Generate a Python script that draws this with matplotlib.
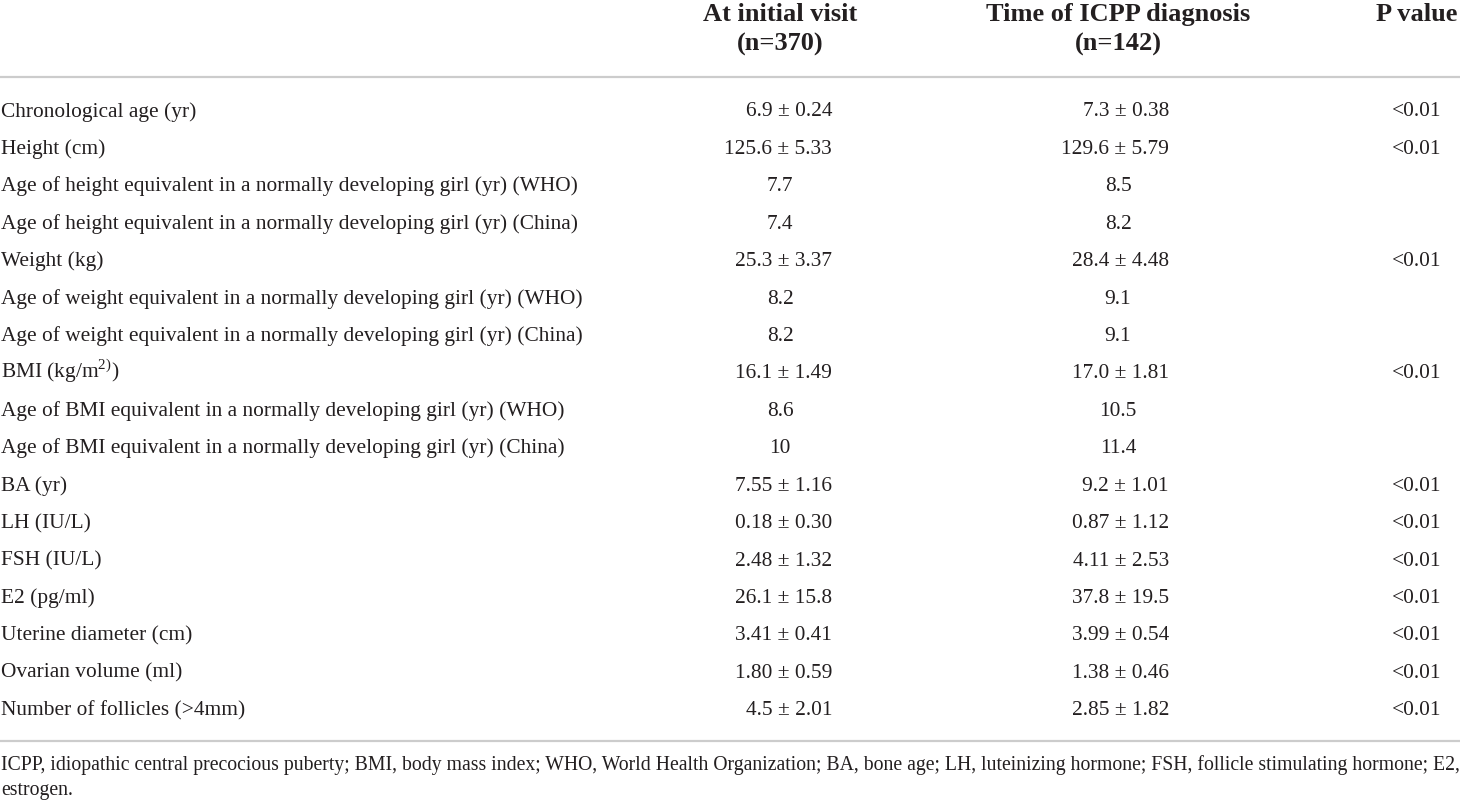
import matplotlib
matplotlib.use("Agg")
import matplotlib.pyplot as plt

# ============================================================
# Table contents
# ============================================================
HEADERS = [("At initial visit", "(n=370)"),
           ("Time of ICPP diagnosis", "(n=142)"),
           ("P value", "")]

LABELS = [
    "Chronological age (yr)",
    "Height (cm)",
    "Age of height equivalent in a normally developing girl (yr) (WHO)",
    "Age of height equivalent in a normally developing girl (yr) (China)",
    "Weight (kg)",
    "Age of weight equivalent in a normally developing girl (yr) (WHO)",
    "Age of weight equivalent in a normally developing girl (yr) (China)",
    r"BMI (kg/m$^{\mathrm{2)}}$)",
    "Age of BMI equivalent in a normally developing girl (yr) (WHO)",
    "Age of BMI equivalent in a normally developing girl (yr) (China)",
    "BA (yr)",
    "LH (IU/L)",
    "FSH (IU/L)",
    "E2 (pg/ml)",
    "Uterine diameter (cm)",
    "Ovarian volume (ml)",
    "Number of follicles (>4mm)",
]

INITIAL = ["6.9 ± 0.24", "125.6 ± 5.33", "7.7", "7.4", "25.3 ± 3.37", "8.2", "8.2",
           "16.1 ± 1.49", "8.6", "10", "7.55 ± 1.16", "0.18 ± 0.30", "2.48 ± 1.32",
           "26.1 ± 15.8", "3.41 ± 0.41", "1.80 ± 0.59", "4.5 ± 2.01"]

DIAGNOSIS = ["7.3 ± 0.38", "129.6 ± 5.79", "8.5", "8.2", "28.4 ± 4.48", "9.1", "9.1",
             "17.0 ± 1.81", "10.5", "11.4", "9.2 ± 1.01", "0.87 ± 1.12", "4.11 ± 2.53",
             "37.8 ± 19.5", "3.99 ± 0.54", "1.38 ± 0.46", "2.85 ± 1.82"]

P_VALUES = ["<0.01", "<0.01", "", "", "<0.01", "", "", "<0.01", "", "", "<0.01",
            "<0.01", "<0.01", "<0.01", "<0.01", "<0.01", "<0.01"]

FOOTNOTE = ["ICPP, idiopathic central precocious puberty; BMI, body mass index; WHO, World Health "
            "Organization; BA, bone age; LH, luteinizing hormone; FSH, follicle stimulating hormone; E2,",
            "estrogen."]

# layout (pixel coordinates, y downwards)
W, H = 1460, 800
FONT = "Liberation Serif"
FS = 15.4          # body text
FS_HEAD = 19       # bold column headers
FS_NOTE = 14.2     # footnote
TXT = "#231f20"
RULE = "#cccccc"
COL_CENTER = [780, 1118, 1417]     # header / single-value centres
COL_RIGHT = [832, 1169]            # right edge of "mean ± sd" entries
ROW0, ROW_STEP = 116.5, 37.42      # baseline of first body row, row pitch

plt.rcParams["mathtext.fontset"] = "custom"
plt.rcParams["mathtext.rm"] = FONT

fig = plt.figure(figsize=(W / 100, H / 100), dpi=100)
ax = fig.add_axes([0, 0, 1, 1])
ax.set_xlim(0, W)
ax.set_ylim(H, 0)
ax.axis("off")

# header
for (l1, l2), xc in zip(HEADERS, COL_CENTER):
    ax.text(xc, 21, l1, ha="center", va="baseline", fontsize=FS_HEAD, fontweight="bold",
            family=FONT, color=TXT)
    if l2:
        ax.text(xc, 51, l2, ha="center", va="baseline", fontsize=FS_HEAD, fontweight="bold",
                family=FONT, color=TXT)

ax.plot([0, W], [77, 77], color=RULE, lw=1.6, solid_capstyle="butt")

# body
for i, (lab, a, b, p) in enumerate(zip(LABELS, INITIAL, DIAGNOSIS, P_VALUES)):
    y = ROW0 + i * ROW_STEP
    ax.text(1, y, lab, ha="left", va="baseline", fontsize=FS, family=FONT, color=TXT)
    for val, xc, xr in ((a, COL_CENTER[0], COL_RIGHT[0]), (b, COL_CENTER[1], COL_RIGHT[1])):
        if "±" in val:
            ax.text(xr, y, val, ha="right", va="baseline", fontsize=FS, family=FONT, color=TXT)
        else:
            ax.text(xc, y, val, ha="center", va="baseline", fontsize=FS, family=FONT, color=TXT)
    if p:
        ax.text(COL_CENTER[2], y, p, ha="center", va="baseline", fontsize=FS, family=FONT, color=TXT)

ax.plot([0, W], [741, 741], color=RULE, lw=1.6, solid_capstyle="butt")

# footnote
ax.text(1, 770, FOOTNOTE[0], ha="left", va="baseline", fontsize=FS_NOTE, family=FONT, color=TXT)
ax.text(1, 795, FOOTNOTE[1], ha="left", va="baseline", fontsize=FS_NOTE, family=FONT, color=TXT)

fig.savefig("out.png", dpi=100, facecolor="white")
